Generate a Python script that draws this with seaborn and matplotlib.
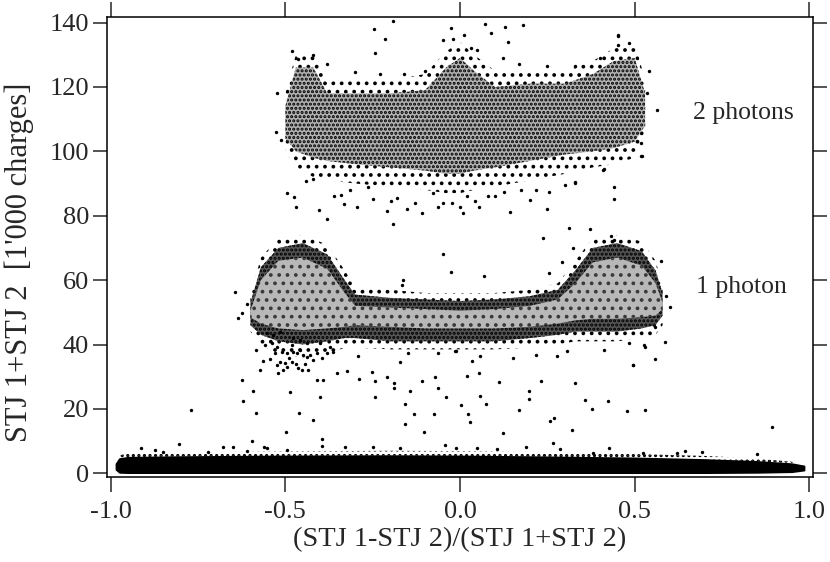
import matplotlib
matplotlib.use("Agg")
import matplotlib.pyplot as plt
import seaborn as sns
import pandas as pd

# dense bands: envelopes (x in asymmetry, y in 1'000 charges)
base_x = [-0.985, -0.975, -0.95, -0.80, -0.50, -0.20, 0.00, 0.20, 0.50, 0.70, 0.85, 0.95, 0.985]
base_top = [3.0, 4.6, 5.0, 5.2, 5.4, 5.5, 5.4, 5.2, 4.8, 4.3, 3.7, 3.0, 2.3]
base_bot = [1.2, 0.3, 0.2, 0.2, 0.2, 0.2, 0.2, 0.2, 0.2, 0.2, 0.3, 0.5, 1.0]
base_fringe = [3.2, 5.6, 6.2, 6.5, 6.8, 7.0, 6.9, 6.6, 6.0, 5.4, 4.6, 3.6, 2.5]

one_x = [-0.60, -0.57, -0.52, -0.45, -0.38, -0.33, -0.30, -0.20, -0.10, 0.00, 0.10, 0.20, 0.28, 0.33, 0.38, 0.45, 0.52, 0.56, 0.58]
one_top = [53, 64, 70, 71.5, 68, 60, 55.5, 54.5, 54, 53.5, 54, 55, 57, 63, 70, 71.5, 69, 63, 56]
one_bot = [46, 43, 41, 40, 41, 42, 42, 41, 41, 41, 41, 42, 43, 44, 44, 44, 45, 46, 49]
core_top = [50.5, 60, 66, 67, 63.5, 56, 52, 51.5, 51, 50.5, 51, 52, 54, 59, 65.5, 67, 64.5, 59, 53]
core_bot = [48.5, 46.5, 45, 44.5, 45, 45.5, 46, 45.5, 45, 45, 45, 45.5, 46.5, 47.5, 48, 48, 48.5, 49, 51]
one_halo_top = [55, 67, 73, 74, 71, 63, 58, 57, 56, 56, 56, 57, 59, 66, 73, 74, 72, 66, 58]
one_halo_bot = [44, 40, 37, 36, 37, 39, 39, 38.5, 38.5, 38.5, 38.5, 39, 40, 41, 41, 41, 42, 43, 46]

two_x = [-0.50, -0.47, -0.42, -0.38, -0.30, -0.20, -0.10, -0.04, 0.00, 0.04, 0.10, 0.20, 0.30, 0.38, 0.44, 0.50, 0.53]
two_top = [114, 126, 126, 118, 118, 118, 119, 126, 129, 125, 120, 121, 121, 124, 128, 129, 118]
two_bot = [104, 100, 98, 97, 96, 95, 94, 93, 93, 94, 95, 97, 99, 100, 101, 103, 108]
two_halo_top = [118, 130, 130, 123, 122, 122, 124, 131, 134, 130, 125, 125, 125, 128, 132, 134, 122]
two_halo_bot = [100, 95, 92, 91, 90, 89, 88, 87, 87, 88, 89, 91, 93, 95, 96, 98, 104]

# single events outside the dense bands
sparse_x = [
    -0.623, -0.593, -0.622, -0.769, -0.583, -0.487, -0.460, -0.420, -0.497, -0.595,
    -0.395, -0.401, -0.408, -0.392, -0.353, -0.324, -0.288, -0.251, -0.244, -0.208,
    -0.189, -0.189, -0.243, -0.143, -0.157, -0.131, -0.157, -0.102, -0.108, -0.072,
    -0.064, -0.040, -0.074, -0.171, -0.062, -0.013, -0.150, -0.293, -0.573, -0.563,
    -0.583, -0.012, 0.033, 0.056, 0.020, 0.054, 0.113, 0.057, 0.074, 0.002,
    0.024, 0.029, 0.122, 0.168, 0.198, 0.198, 0.232, 0.218, 0.279, 0.306,
    0.330, 0.258, 0.270, 0.321, 0.267, 0.357, 0.379, 0.425, 0.477, 0.531,
    0.494, 0.559, 0.530, 0.484, 0.586, 0.413, 0.894, 0.645, 0.692, 0.557,
    0.153,
    # tail below the left 1-photon blob
    -0.553, -0.534, -0.515, -0.558, -0.539, -0.525, -0.510, -0.530, -0.496, -0.482,
    -0.477, -0.468, -0.458, -0.449, -0.439, -0.429, -0.410, -0.396, -0.382, -0.363,
    -0.515, -0.501, -0.525, -0.496, -0.482, -0.463, -0.453, -0.434, -0.506, -0.420,
    -0.372, -0.401, -0.439, -0.458, -0.477, -0.545, -0.490, -0.470, -0.445, -0.520,
    # around the 1-photon band
    -0.027, 0.070, 0.237, 0.291, 0.324, 0.255, -0.162, -0.165, -0.644, -0.625,
    -0.636, 0.494, 0.528, -0.050, 0.313, 0.372, 0.432, 0.440, 0.590, 0.600,
    -0.610, 0.575,
    # below the 2-photon cloud
    -0.494, -0.474, -0.469, -0.404, -0.382, -0.442, -0.331, -0.295, -0.315, -0.250,
    -0.209, -0.197, -0.191, -0.152, -0.109, -0.077, -0.062, -0.024, 0.008, -0.001,
    0.044, 0.055, 0.127, 0.144, 0.174, 0.218, 0.248, 0.255, 0.330, 0.441,
    0.441, 0.413, 0.518, 0.410, 0.329, -0.340, -0.262, 0.100, -0.420, -0.180,
    -0.050, 0.080, 0.200, 0.300, -0.360, -0.130, 0.020,
    # above the 2-photon cloud
    -0.191, -0.246, -0.215, -0.242, -0.027, 0.011, -0.050, 0.072, 0.088, 0.130,
    0.180, 0.138, 0.031, 0.123, 0.451, 0.452, -0.420, -0.382, -0.464, -0.528,
    -0.512, -0.525, 0.520, 0.518, 0.534, 0.453, 0.563, -0.230, -0.100, 0.250,
    -0.300, -0.160, 0.170, 0.330, 0.400, -0.020, 0.050, -0.480, 0.540, 0.485,
    # just above the baseline
    -0.914, -0.804, -0.874, -0.849, -0.678, -0.649, -0.560, -0.553, -0.496, -0.395,
    -0.329, -0.248, -0.171, -0.043, -0.012, 0.048, 0.107, 0.189, 0.286, 0.427,
    0.525, 0.849, -0.720, -0.610, 0.380, 0.620,
]
sparse_y = [
    29.0, 25.6, 22.4, 19.7, 18.7, 25.4, 18.8, 16.5, 12.9, 10.1,
    10.7, 23.6, 29.0, 29.0, 31.1, 31.8, 29.2, 31.6, 28.6, 30.0,
    28.1, 26.5, 23.6, 25.7, 21.5, 18.5, 15.2, 12.9, 28.7, 30.0,
    26.6, 23.8, 18.3, 34.7, 37.5, 38.1, 37.4, 36.4, 32.1, 34.9,
    38.2, 38.1, 34.9, 36.3, 30.1, 31.1, 28.4, 24.1, 21.4, 21.1,
    18.3, 15.8, 12.6, 19.6, 25.6, 23.2, 28.7, 36.7, 36.4, 37.9,
    28.1, 16.4, 17.2, 13.5, 9.3, 22.8, 20.0, 22.4, 19.3, 19.6,
    33.7, 35.5, 39.2, 40.4, 40.8, 38.2, 14.4, 6.8, 6.6, 45.5,
    35.7,
    43.5, 43.0, 44.0, 39.9, 40.4, 39.3, 37.8, 37.3, 37.3, 39.9,
    37.8, 37.3, 38.3, 36.7, 36.2, 36.7, 37.3, 35.7, 37.3, 37.8,
    34.7, 34.2, 33.6, 33.1, 34.7, 32.6, 32.1, 32.1, 32.1, 35.2,
    39.3, 40.4, 40.4, 41.4, 41.9, 35.5, 35.9, 34.0, 33.8, 31.0,
    62.4, 61.4, 73.2, 65.7, 69.9, 62.1, 60.0, 58.5, 56.4, 49.7,
    48.1, 33.6, 39.9, 68.0, 76.3, 75.8, 73.7, 72.5, 55.0, 51.5,
    52.5, 66.0,
    87.0, 85.9, 82.8, 81.7, 79.1, 90.9, 83.7, 82.6, 88.0, 85.2,
    81.5, 84.6, 77.4, 82.0, 80.9, 87.2, 82.8, 84.1, 80.7, 82.8,
    84.5, 82.8, 87.3, 81.1, 87.9, 87.9, 82.2, 87.4, 90.4, 88.8,
    85.1, 94.5, 98.6, 94.2, 90.3, 86.5, 89.0, 86.0, 91.5, 85.5,
    84.0, 86.0, 85.0, 89.5, 86.0, 84.0, 86.0,
    140.5, 137.9, 134.8, 130.6, 138.4, 136.0, 134.6, 139.5, 136.7, 138.5,
    139.2, 134.1, 132.2, 129.0, 135.9, 133.1, 129.9, 127.1, 128.8, 106.1,
    103.5, 118.0, 98.4, 102.5, 118.0, 136.2, 112.9, 124.0, 125.0, 126.5,
    124.5, 124.0, 127.0, 126.5, 129.0, 135.0, 131.5, 131.0, 125.0, 133.5,
    7.8, 9.2, 7.2, 6.7, 8.3, 8.1, 8.3, 7.8, 7.2, 8.5,
    8.1, 8.3, 7.8, 8.8, 7.8, 7.8, 7.6, 8.3, 7.5, 7.8,
    6.2, 6.0, 6.5, 6.9, 6.4, 6.3,
]

labels = ["2 photons", "1 photon"]
label_x = [0.81, 0.807]
label_y = [112, 58]

sns.set_style("ticks")
plt.rcParams["font.family"] = ["Liberation Serif", "DejaVu Serif"]
plt.rcParams["axes.unicode_minus"] = False
plt.rcParams["hatch.linewidth"] = 1.5

fig = plt.figure(figsize=(8.3, 5.62), dpi=100)
ax = fig.add_axes([0.1289, 0.1512, 0.8506, 0.8185])

# baseline (no photon) band with a ragged fringe on top
ax.fill_between(base_x, base_top, base_fringe, facecolor="none", edgecolor="black",
                hatch="...", linewidth=0, zorder=1)
ax.fill_between(base_x, base_bot, base_top, facecolor="black", edgecolor="black", linewidth=1.2, zorder=1)

# 2-photon cloud: sparse halo, then mixed grey/black core
ax.fill_between(two_x, two_halo_bot, two_halo_top, facecolor="none", edgecolor="black",
                hatch="..", linewidth=0, zorder=1)
ax.fill_between(two_x, two_bot, two_top, facecolor="#b2b2b2", edgecolor="black",
                hatch="....", linewidth=0, zorder=1)

# 1-photon band: dotted black rim round a grey core
ax.fill_between(one_x, one_halo_bot, one_halo_top, facecolor="none", edgecolor="black",
                hatch="..", linewidth=0, zorder=1)
ax.fill_between(one_x, one_bot, one_top, facecolor="#555555", edgecolor="black",
                hatch="....", linewidth=0, zorder=1)
ax.fill_between(one_x, core_bot, core_top, facecolor="#b8b8b8", edgecolor="#3a3a3a",
                hatch="..", linewidth=0, zorder=2)

sparse = pd.DataFrame({"x": sparse_x, "y": sparse_y})
sns.scatterplot(data=sparse, x="x", y="y", color="black", marker="o", s=6,
                linewidth=0, ax=ax, zorder=3)

for txt, tx, ty in zip(labels, label_x, label_y):
    ax.text(tx, ty, txt, ha="center", va="center", fontsize=18.5)

ax.set_xlim(-1.0106, 1.0106)
ax.set_ylim(-1.15, 141.7)
ax.set_xticks([-1.0, -0.5, 0.0, 0.5, 1.0])
ax.set_xticklabels(["-1.0", "-0.5", "0.0", "0.5", "1.0"])
ax.set_yticks([0, 20, 40, 60, 80, 100, 120, 140])
ax.tick_params(axis="x", direction="out", length=11, width=1.1, top=True, labelsize=19, pad=6)
ax.tick_params(axis="y", direction="out", length=10, width=1.1, right=True, labelsize=19, pad=3)
for sp in ax.spines.values():
    sp.set_visible(True)
    sp.set_linewidth(1.1)
    sp.set_color("black")

ax.set_xlabel("(STJ 1-STJ 2)/(STJ 1+STJ 2)", fontsize=20.5, labelpad=3)
ax.set_ylabel("STJ 1+STJ 2  [1'000 charges]", fontsize=22)
ax.yaxis.set_label_coords(-0.104, 0.467)

fig.savefig("out.png", dpi=100)
